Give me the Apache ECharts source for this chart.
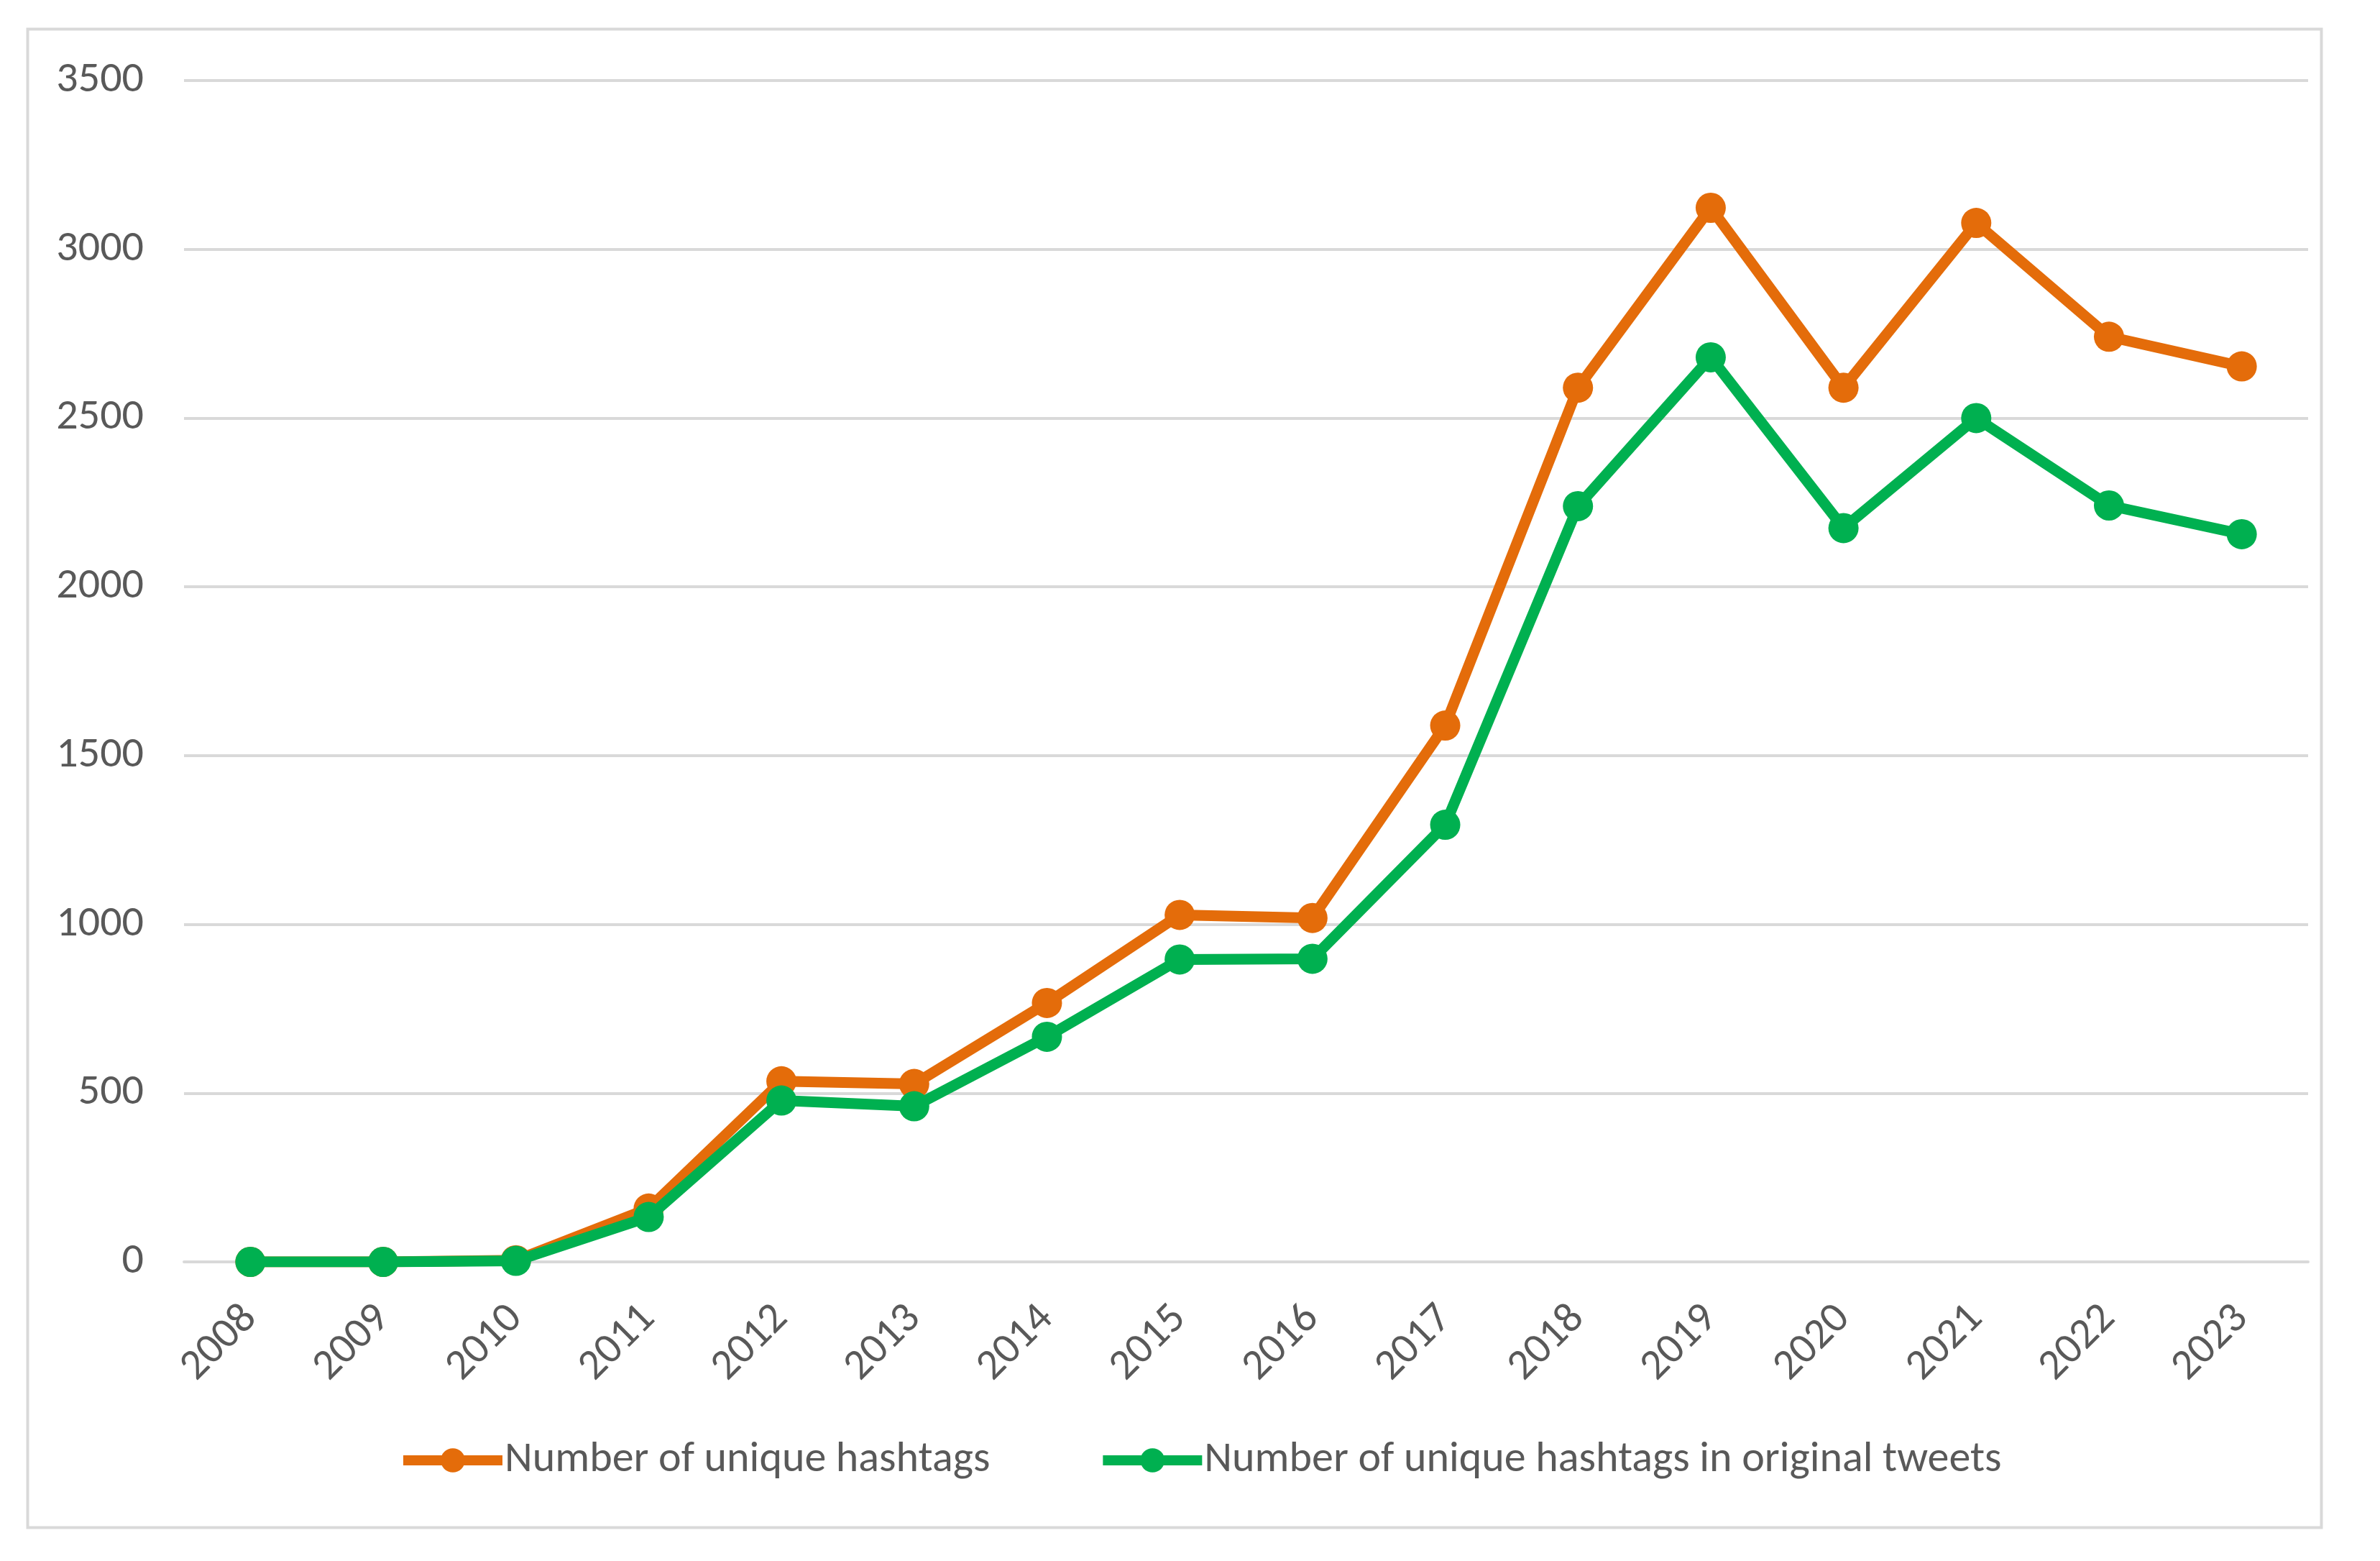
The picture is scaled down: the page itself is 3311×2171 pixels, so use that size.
<!DOCTYPE html>
<html><head><meta charset="utf-8">
<script src="https://cdn.jsdelivr.net/npm/echarts@6/dist/echarts.min.js"></script>
<style>html,body{margin:0;padding:0;background:#fff;}#c{width:3311px;height:2171px;}</style>
</head><body><div id="c"></div>
<script>
const years = ['2008','2009','2010','2011','2012','2013','2014','2015','2016','2017','2018','2019','2020','2021','2022','2023'];
const uniqueHashtags = [0, 0, 5, 158, 535, 527, 767, 1028, 1019, 1589, 2590, 3123, 2590, 3078, 2741, 2653];
const uniqueOriginal = [0, 0, 3, 133, 478, 461, 667, 896, 898, 1295, 2239, 2680, 2174, 2500, 2241, 2156];
const yTicks = [0, 500, 1000, 1500, 2000, 2500, 3000, 3500];
const seriesNames = ['Number of unique hashtags', 'Number of unique hashtags in original tweets'];
const colors = ['#E46C0A', '#00B050'];

const FONT = 'Carlito, Calibri, Lato, sans-serif';
const chart = echarts.init(document.getElementById('c'), null, {renderer: 'canvas'});
chart.setOption({
  backgroundColor: '#ffffff',
  animation: false,
  textStyle: {fontFamily: FONT},
  graphic: [{
    type: 'rect', left: 36, top: 38, z: -1,
    shape: {width: 3191, height: 2084},
    style: {fill: 'none', stroke: '#d9d9d9', lineWidth: 4}
  }],
  grid: {left: 256, right: 100, top: 112, bottom: 416, containLabel: false},
  legend: {
    left: 549, top: 1996,
    itemWidth: 138, itemHeight: 42, itemGap: 150,
    textStyle: {fontFamily: FONT, fontSize: 60, color: '#595959', padding: [0,0,0,-2]},
    data: seriesNames.map((n, i) => ({
      name: n,
      itemStyle: {color: colors[i]},
      lineStyle: {color: colors[i], width: 14}
    }))
  },
  xAxis: {
    type: 'category', data: years, boundaryGap: true,
    axisLine: {show: true, lineStyle: {color: '#d9d9d9', width: 4}},
    axisTick: {show: false},
    axisLabel: {rotate: 45, margin: 70, fontFamily: FONT, fontSize: 60, color: '#595959'}
  },
  yAxis: {
    type: 'value', min: yTicks[0], max: yTicks[yTicks.length-1], interval: 500,
    axisLine: {show: false}, axisTick: {show: false},
    axisLabel: {margin: 56, fontFamily: FONT, fontSize: 60, color: '#595959',
      formatter: v => String(v)},
    splitLine: {lineStyle: {color: '#d9d9d9', width: 4}}
  },
  series: [
    {name: seriesNames[0], type: 'line', data: uniqueHashtags, symbol: 'circle', symbolSize: 42,
     lineStyle: {width: 15, color: colors[0]}, itemStyle: {color: colors[0]}, z: 2},
    {name: seriesNames[1], type: 'line', data: uniqueOriginal, symbol: 'circle', symbolSize: 42,
     lineStyle: {width: 15, color: colors[1]}, itemStyle: {color: colors[1]}, z: 3}
  ]
});
</script></body></html>
